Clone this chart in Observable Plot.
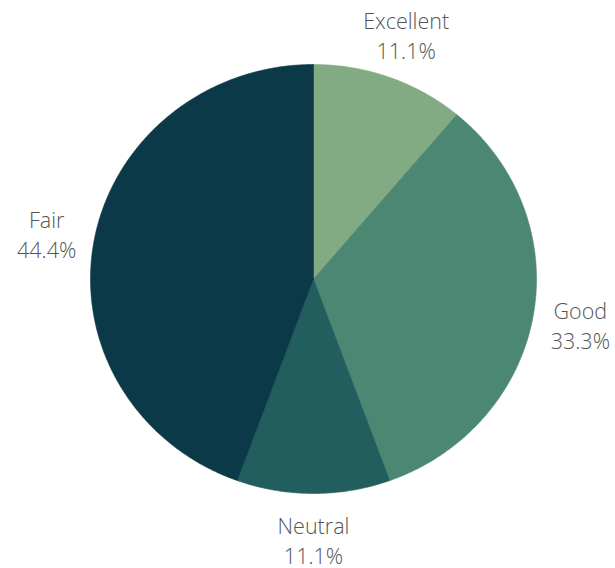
<!DOCTYPE html>
<html><head><meta charset="utf-8">
<script src="https://cdn.jsdelivr.net/npm/d3@7"></script>
<script src="https://cdn.jsdelivr.net/npm/@observablehq/plot@0.6"></script>
<style>body{margin:0;background:#fff}</style>
</head><body><div id="chart"></div>
<script>
const categories = ["Excellent", "Good", "Neutral", "Fair"];
const values = [11.1, 33.3, 11.1, 44.4];
const colors = ["#82aa83", "#4c8774", "#235e5e", "#0b3947"];

const total = d3.sum(values);
let acc = 0;
const slices = categories.map((c, i) => {
  const a0 = acc / total * 2 * Math.PI;
  acc += values[i];
  const a1 = acc / total * 2 * Math.PI;
  return {category: c, value: values[i], a0, a1};
});
const pts = [];
for (const s of slices) {
  pts.push({category: s.category, x: 0, y: 0});
  const n = Math.max(2, Math.ceil((s.a1 - s.a0) / (Math.PI / 360)));
  for (let k = 0; k <= n; k++) {
    const a = s.a0 + (s.a1 - s.a0) * k / n;
    pts.push({category: s.category, x: Math.sin(a), y: Math.cos(a)});
  }
  pts.push({category: s.category, x: 0, y: 0});
}
const labelR = 1.215;
const labels = slices.map(s => {
  const m = (s.a0 + s.a1) / 2;
  return {category: s.category, text: `${s.category}\n${s.value.toFixed(1)}%`, x: labelR * Math.sin(m), y: labelR * Math.cos(m)};
});

const chart = Plot.plot({
  width: 615, height: 568,
  marginLeft: 90, marginRight: 79, marginTop: 64, marginBottom: 75,
  x: {domain: [-1, 1], axis: null},
  y: {domain: [-1, 1], axis: null},
  color: {domain: categories, range: colors},
  style: {fontFamily: "'Open Sans', sans-serif", background: "#fff"},
  marks: [
    Plot.line(pts, {x: "x", y: "y", z: "category", fill: "category", stroke: "category", strokeWidth: 0.6}),
    Plot.text(labels, {x: "x", y: "y", text: "text", fontSize: 21.5, fontWeight: 300, lineHeight: 1.4, fill: "#555", textAnchor: "middle"})
  ]
});
document.getElementById("chart").appendChild(chart);
</script>
</body></html>
